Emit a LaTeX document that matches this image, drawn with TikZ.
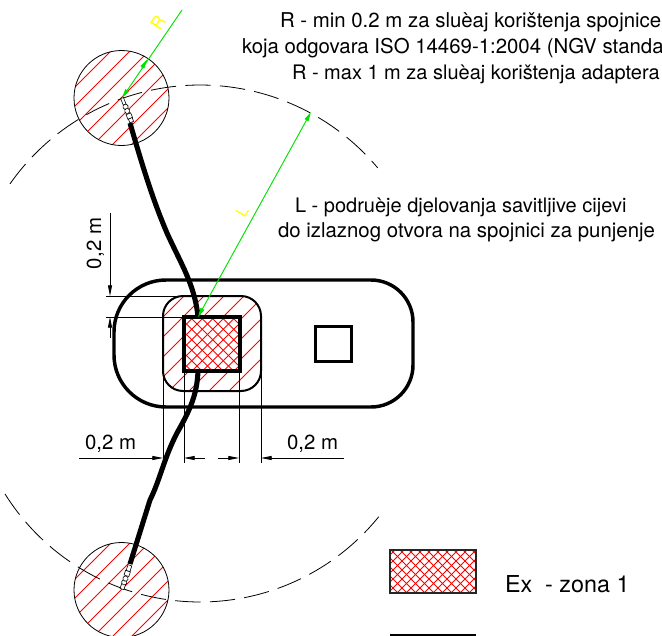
\documentclass[tikz,border=0pt]{standalone}
\usepackage{fontspec}
\setmainfont{TeX Gyre Heros}
\usetikzlibrary{arrows.meta}
\definecolor{gline}{RGB}{0,225,0}
\definecolor{hatchred}{RGB}{255,0,0}
\definecolor{ylab}{RGB}{255,255,0}
\tikzset{
  x=0.75pt,y=-0.75pt,
  txt/.style={inner sep=0pt,outer sep=0pt,anchor=base west,font=\fontsize{15.3}{18}\selectfont,text=black},
  thinblk/.style={draw=black,line width=0.6pt},
  hatchline/.style={draw=hatchred,line width=0.6pt},
  greenline/.style={draw=gline,line width=0.7pt},
  greentip/.style={-{Triangle[length=7pt,width=3.2pt]}},
  dimtip/.style={-{Triangle[length=8pt,width=3pt]}},
  hose/.style={draw=black,line width=3.8pt,line cap=butt},
  bigarc/.style={draw=black,line width=0.6pt,dash pattern=on 19pt off 7pt},
  fit/.style={draw=black,line width=0.45pt,fill=white},
}
\begin{document}
\begin{tikzpicture}
\useasboundingbox (0,0) rectangle (662,636);
\clip (0,0) rectangle (662,636);
\fill[white] (0,0) rectangle (662,636);

% named points
\coordinate (tipTop) at (122,98);
\coordinate (tipBot) at (122,589);
\coordinate (hubTop) at (198,317);
\coordinate (hubBot) at (198,371);
\coordinate (lEnd) at (311,112);
\coordinate (rEnd) at (182,10);
\coordinate (rArrowA) at (141.7,68.3);
\coordinate (rArrowB) at (147.3,59.3);
\coordinate (hoseTop) at (130,123);
\coordinate (hoseBot) at (130,564);

% hatching of the two circles
\begin{scope}
  \clip (121.5,98) circle[radius=47.5];
  \foreach \c in {143,162,181,200,219,238,257,276,295}
    \draw[hatchline] (\c-200,200) -- (\c,0);
\end{scope}
\begin{scope}
  \clip (121.5,590) circle[radius=47.5];
  \foreach \c in {635,654,673,692,711,730,749,768}
    \draw[hatchline] (\c-700,700) -- (\c-500,500);
\end{scope}
\draw[thinblk] (121.5,98) circle[radius=47.5];
\draw[thinblk] (121.5,590) circle[radius=47.5];

% dashed reach arcs
\draw[bigarc] plot[domain=145:40,samples=80] ({200+232*cos(\x)},{317-232*sin(\x)});
\draw[bigarc] plot[domain=-148:-39,samples=80] ({200+230*cos(\x)},{372-230*sin(\x)});

% hatching of the zone around the dispenser
\begin{scope}
  \clip[rounded corners=15pt] (163,296) rectangle (261,391);
  \foreach \c in {460,480,500,520,540,560,580,600,620,640}
    \draw[hatchline] (\c-500,500) -- (\c-200,200);
\end{scope}
\fill[white] (184,317) rectangle (240,371);
\begin{scope}
  \clip (184,317) rectangle (240,371);
  \foreach \c in {500,510.5,...,620}
    \draw[hatchline] (\c-400,400) -- (\c-200,200);
  \foreach \c in {-190,-179.5,...,-70}
    \draw[hatchline] (\c+200,200) -- (\c+500,500);
\end{scope}

% island outlines
\draw[draw=black,line width=2.6pt] (240,280) [rounded corners=31.5pt] -- (413,280) -- (413,407) -- (240,407) [rounded corners=39pt] -- (114,407) -- (114,280) -- cycle;
\draw[draw=black,line width=1.5pt,rounded corners=15pt] (163,296) rectangle (261,391);
\draw[draw=black,line width=3pt] (184,317) rectangle (240,371);
\draw[draw=black,line width=2.2pt] (315.5,326.5) rectangle (351.5,361.5);

% dimension lines
\draw[thinblk] (106,296) -- (184,296);
\draw[thinblk] (106,317) -- (184,317);
\coordinate (v1) at (110,213); \coordinate (v1e) at (110,296);
\coordinate (v2) at (110,338); \coordinate (v2e) at (110,317);
\draw[thinblk,dimtip] (v1) -- (v1e);
\draw[thinblk,dimtip] (v2) -- (v2e);
\draw[thinblk] (163,330) -- (163,463);
\draw[thinblk] (184,371) -- (184,463);
\draw[thinblk] (239,371) -- (239,463);
\draw[thinblk] (261,370) -- (261,463);
\coordinate (h1) at (79,458); \coordinate (h1e) at (163,458);
\coordinate (h2) at (205,458); \coordinate (h2e) at (184,458);
\coordinate (h3) at (218,458); \coordinate (h3e) at (239,458);
\coordinate (h4) at (344,458); \coordinate (h4e) at (261,458);
\draw[thinblk,dimtip] (h1) -- (h1e);
\draw[thinblk,dimtip] (h2) -- (h2e);
\draw[thinblk,dimtip] (h3) -- (h3e);
\draw[thinblk,dimtip] (h4) -- (h4e);

% hose
\draw[hose] (hubTop) .. controls (195,285) and (180,262) .. (167,233) .. controls (155,205) and (145,175) .. (hoseTop);
\draw[hose] (hubBot) .. controls (197,395) and (190,410) .. (177,433) .. controls (164,458) and (160,480) .. (150,500) -- (hoseBot);

% fittings at hose ends
\begin{scope}[shift={(tipTop)},rotate=-68]
  \draw[fit] (0,-1.5) rectangle (7,1.5);
  \draw[fit] (9.5,0) circle[radius=2.6];
  \draw[fit] (14,0) circle[radius=2.6];
  \draw[fit] (17,-2.5) rectangle (22,2.5);
  \draw[fit] (22,-2) rectangle (26,2);
\end{scope}
\begin{scope}[shift={(tipBot)},rotate=71.5]
  \draw[fit] (0,-2) rectangle (6,2);
  \draw[fit] (7,0) circle[radius=2.6];
  \draw[fit] (11,0) circle[radius=2.6];
  \draw[fit] (14,-2.5) rectangle (19,2.5);
  \draw[fit] (19,-2) rectangle (25,2);
\end{scope}

% green radius and reach lines
\draw[greenline,greentip] (rEnd) -- (tipTop);
\draw[greenline,fill=gline,greentip] (rArrowA) -- (rArrowB);
\draw[greenline,{Triangle[length=7pt,width=3.2pt]}-{Triangle[length=7pt,width=3.2pt]}] (hubTop) -- (lEnd);
\node[inner sep=0pt,text=ylab,rotate=55,font=\fontsize{13}{15}\selectfont] (labR) at (158,23) {R};
\node[inner sep=0pt,text=ylab,rotate=60,font=\fontsize{12}{15}\selectfont] (labL) at (242,212) {L};

% texts
\node[txt] (t1) at (280,27) {R - min 0.2 m za sluèaj korištenja spojnice};
\node[txt] (t2) at (242,53) {koja odgovara ISO 14469-1:2004 (NGV standa};
\node[txt,font=\fontsize{15}{18}\selectfont] (t3) at (292,79) {R - max 1 m za sluèaj korištenja adaptera};
\node[txt,font=\fontsize{15}{18}\selectfont] (t4) at (295,212) {L - podruèje djelovanja savitljive cijevi};
\node[txt] (t5) at (278,237) {do izlaznog otvora na spojnici za punjenje};
\node[txt] (d1) at (85,449) {0,2 m};
\node[txt] (d2) at (287,449) {0,2 m};
\node[txt,rotate=90] (d3) at (101,269) {0,2 m};

% legend
\begin{scope}
  \clip (390,550) rectangle (476,593);
  \foreach \c in {900,909,...,1120}
    \draw[hatchline] (\c-700,700) -- (\c-400,400);
  \foreach \c in {-240,-231,...,-40}
    \draw[hatchline] (\c+400,400) -- (\c+800,800);
\end{scope}
\draw[draw=black!85,line width=1.5pt] (390,550) rectangle (476,593);
\node[txt,font=\fontsize{17.5}{20}\selectfont] (ex) at (505,592) {Ex\ \ - zona 1};
\draw[draw=black,line width=1.5pt] (390,635) -- (476,635);
\end{tikzpicture}
\end{document}
